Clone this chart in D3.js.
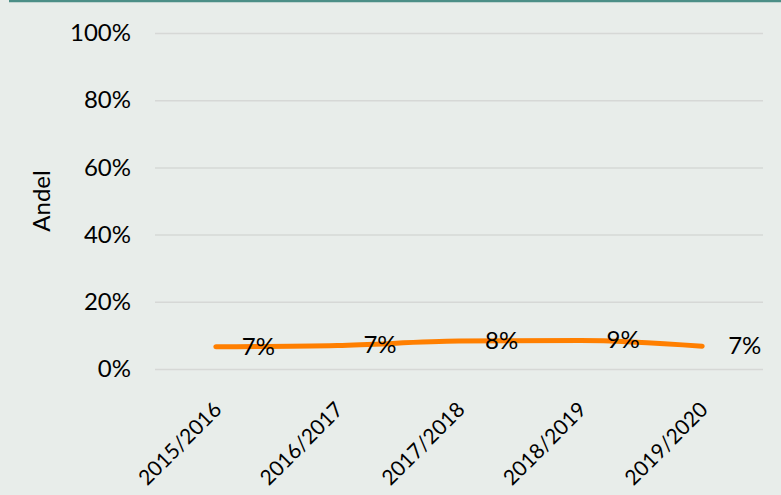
<!DOCTYPE html>
<html lang="en">
<head>
<meta charset="utf-8">
<script src="https://cdn.jsdelivr.net/npm/d3@7"></script>
<style type="text/css">
body {
	margin: 0;
	background: #e8edea;
	font-family: Lato, sans-serif;
}
</style>
</head>
<body>
<script type="text/javascript">

// chart data
var years = ["2015/2016", "2016/2017", "2017/2018", "2018/2019", "2019/2020"];
var shares = [0.066, 0.070, 0.083, 0.085, 0.068];
var shareLabels = ["7%", "7%", "8%", "9%", "7%"];
var yTicks = [0, 0.2, 0.4, 0.6, 0.8, 1];

var width = 781;
var height = 495;
var margin = {top: 33, right: 18, bottom: 126, left: 155};

var svg = d3.select("body")
			.append("svg")
			.attr("width", width)
			.attr("height", height);

svg.append("rect")
	.attr("width", width)
	.attr("height", height)
	.attr("fill", "#e8edea");

// teal rule at the top
svg.append("line")
	.attr("x1", 9).attr("x2", width)
	.attr("y1", 1).attr("y2", 1)
	.attr("stroke", "#4c8f87")
	.attr("stroke-width", 2.5);

var x = d3.scaleBand()
		  .domain(years)
		  .range([margin.left, width - margin.right]);

var y = d3.scaleLinear()
		  .domain([0, 1])
		  .range([height - margin.bottom, margin.top]);

// gridlines + y labels
var yAxis = d3.axisLeft(y)
			  .tickValues(yTicks)
			  .tickFormat(d3.format(".0%"))
			  .tickSize(-(width - margin.left - margin.right))
			  .tickPadding(24);

var gy = svg.append("g")
	.attr("transform", "translate(" + margin.left + ",0)")
	.call(yAxis);
gy.select(".domain").remove();
gy.selectAll(".tick line").attr("stroke", "#d6d8d6").attr("stroke-width", 1.5);
gy.selectAll(".tick text")
	.attr("font-family", "Lato, sans-serif")
	.attr("font-size", 24)
	.attr("fill", "#000");

// x labels, rotated
var xAxis = d3.axisBottom(x).tickSize(0).tickPadding(0);
var gx = svg.append("g")
	.attr("transform", "translate(0," + (height - margin.bottom) + ")")
	.call(xAxis);
gx.select(".domain").remove();
gx.selectAll(".tick text")
	.attr("font-family", "Lato, sans-serif")
	.attr("font-size", 21)
	.attr("fill", "#000")
	.attr("text-anchor", "end")
	.attr("dy", 0)
	.attr("transform", "translate(7,42) rotate(-45)");

// y axis title
svg.append("text")
	.attr("transform", "translate(50," + y(0.5) + ") rotate(-90)")
	.attr("text-anchor", "middle")
	.attr("font-size", 24)
	.attr("fill", "#000")
	.text("Andel");

var cx = function(d, i) { return x(years[i]) + x.bandwidth() / 2; };

var line = d3.line()
			 .x(function(d, i) { return cx(d, i); })
			 .y(function(d) { return y(d); })
			 .curve(d3.curveMonotoneX);

svg.append("path")
	.datum(shares)
	.attr("d", line)
	.attr("fill", "none")
	.attr("stroke", "#ff7f00")
	.attr("stroke-width", 5)
	.attr("stroke-linecap", "round");

// value labels to the right of points
svg.selectAll(".vlabel")
	.data(shares)
	.enter()
	.append("text")
	.attr("class", "vlabel")
	.attr("x", function(d, i) { return cx(d, i) + 26; })
	.attr("y", function(d) { return y(d) + 8; })
	.attr("font-size", 24)
	.attr("fill", "#000")
	.text(function(d, i) { return shareLabels[i]; });

</script>
</body>
</html>
